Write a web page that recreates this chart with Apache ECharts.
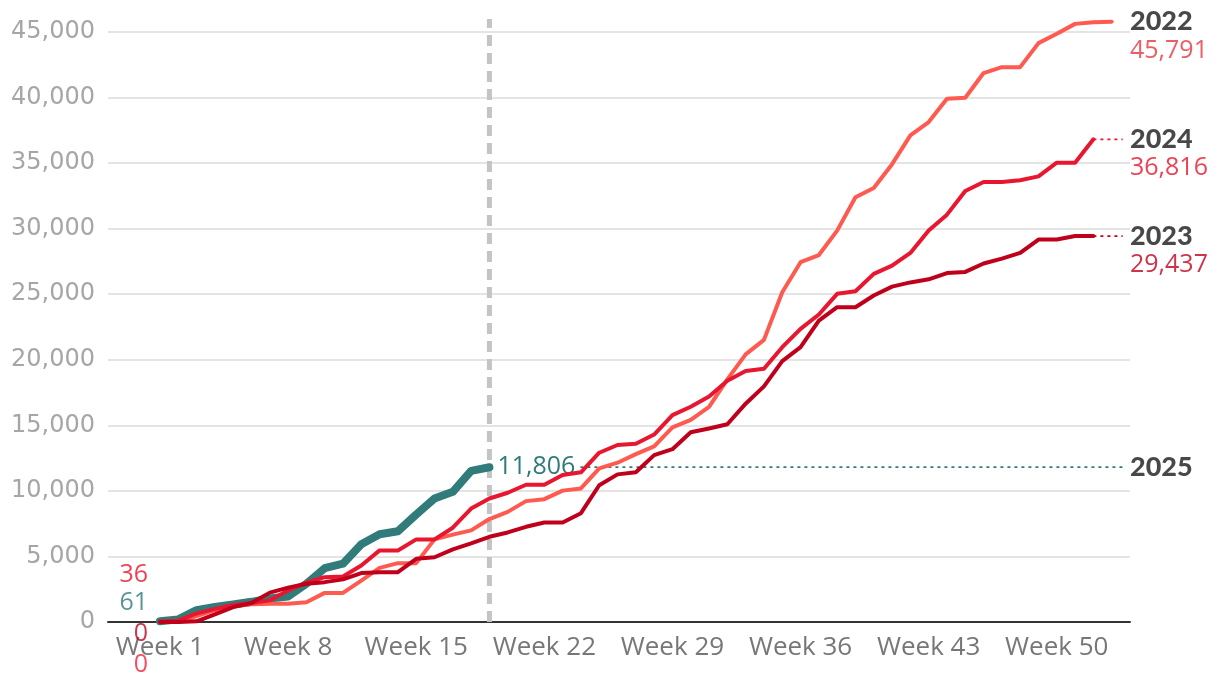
<!DOCTYPE html>
<html><head><meta charset="utf-8">
<script src="https://cdn.jsdelivr.net/npm/echarts@6/dist/echarts.min.js"></script>
<style>html,body{margin:0;padding:0;background:#fff}#c{width:1220px;height:674px}</style>
</head><body><div id="c"></div>
<script>
// ---- data ----
const weeks = Array.from({length: 53}, (_, i) => i + 1);
const xTickWeeks = [1, 8, 15, 22, 29, 36, 43, 50];
const currentWeek = 19;

const y2022 = [0, 0, 450, 900, 1200, 1350, 1400, 1400, 1500, 2220, 2220, 3160, 4130, 4490, 4490, 6300, 6660, 6990, 7850, 8400,
  9220, 9370, 10020, 10190, 11720, 12150, 12800, 13400, 14850, 15420, 16400, 18500, 20410, 21520, 25150, 27440, 27990, 29850, 32390, 33100,
  34920, 37120, 38130, 39910, 39990, 41870, 42320, 42320, 44150, 44860, 45620, 45750, 45791];
const y2023 = [0, 0, 50, 580, 1140, 1450, 2240, 2620, 2920, 3040, 3250, 3730, 3800, 3800, 4820, 4940, 5540, 6000, 6500, 6830,
  7260, 7590, 7590, 8300, 10430, 11260, 11420, 12730, 13180, 14470, 14760, 15080, 16650, 17970, 19900, 20960, 22990, 24010, 24010, 24900,
  25580, 25900, 26140, 26610, 26700, 27340, 27720, 28150, 29170, 29170, 29437, 29437];
const y2024 = [36, 100, 650, 1000, 1300, 1450, 1650, 2400, 3000, 3420, 3470, 4310, 5460, 5460, 6300, 6300, 7190, 8650, 9420, 9860,
  10470, 10470, 11210, 11420, 12910, 13500, 13590, 14300, 15780, 16420, 17200, 18400, 19140, 19310, 20960, 22360, 23450, 25030, 25230, 26550,
  27180, 28150, 29860, 31070, 32870, 33560, 33560, 33690, 33990, 35030, 35030, 36816];
const y2025 = [61, 200, 900, 1140, 1330, 1540, 1800, 1950, 2920, 4100, 4450, 5930, 6690, 6920, 8200, 9420, 9930, 11530, 11806];

const years = ['2022', '2023', '2024', '2025'];
const lineColors = {'2022': '#ff5a50', '2023': '#c0001b', '2024': '#e8172f', '2025': '#317c7b'};
const numColors = {'2022': '#e8343c', '2023': '#c0001b', '2024': '#e8132c', '2025': '#2f7b7a'};
const seriesData = {'2022': y2022, '2023': y2023, '2024': y2024, '2025': y2025};
const startOffsets = {'2024': -47, '2025': -18, '2023': 12, '2022': 43};

const fmt = v => Number(v).toLocaleString('en-US');
const pts = arr => arr.map((v, i) => [weeks[i], v]);
const X_MIN = -1.84, X_MAX = 54, CONNECT_END = 53.6, Y_TOP = 46000;

const series = [];
// vertical dashed "current week" line
series.push({
  type: 'line', silent: true, clip: false, symbol: 'none', z: 1,
  data: [[currentWeek, 0], [currentWeek, Y_TOP]],
  lineStyle: {color: '#c4c4c4', width: 5, type: [11, 7]}
});
// dotted connectors
['2023', '2024', '2025'].forEach(y => {
  const arr = seriesData[y];
  const last = arr[arr.length - 1];
  series.push({
    type: 'line', silent: true, clip: false, symbol: 'none', z: 2,
    data: [[arr.length, last], [CONNECT_END, last]],
    lineStyle: {color: lineColors[y], width: 1.8, type: [3, 4]}
  });
});
// main lines: teal first (bottom), then reds
['2025', '2022', '2024', '2023'].forEach((y, k) => {
  const s = {
    name: y, type: 'line', clip: false, symbol: 'none', z: 3 + k,
    data: pts(seriesData[y]),
    lineStyle: {color: lineColors[y], width: y === '2025' ? 8 : 4, join: 'round', cap: 'round'},
    emphasis: {disabled: true}
  };
  if (y === '2025') {
    s.endLabel = {
      show: true, distance: 5, formatter: p => fmt(p.value[1]),
      fontFamily: 'Open Sans', fontSize: 25, color: numColors[y],
      backgroundColor: '#fff', padding: [0, 3]
    };
  }
  series.push(s);
});
// right side labels
series.push({
  type: 'scatter', silent: true, clip: false, symbolSize: 0, z: 10,
  data: years.map(y => {
    const arr = seriesData[y];
    const last = arr[arr.length - 1];
    const showNum = y !== '2025';
    return {
      value: [X_MAX, last],
      label: {
        show: true, position: 'right', distance: 0, offset: [0, showNum ? 14.5 : 0],
        formatter: showNum ? `{y|${y}}\n{v|${fmt(last)}}` : `{y|${y}}`,
        rich: {
          y: {fontFamily: 'Lato', fontWeight: 900, fontSize: 27, color: '#1a1a1a', lineHeight: 29},
          v: {fontFamily: 'Open Sans', fontSize: 25, color: numColors[y], lineHeight: 29}
        }
      }
    };
  })
});
// start labels
series.push({
  type: 'scatter', silent: true, clip: false, symbolSize: 0, z: 10,
  data: years.map(y => ({
    value: [weeks[0], seriesData[y][0]],
    label: {
      show: true, position: 'left', distance: 12, offset: [0, startOffsets[y]],
      formatter: fmt(seriesData[y][0]),
      fontFamily: 'Open Sans', fontSize: 25, color: y === '2022' ? '#f0203a' : numColors[y]
    }
  }))
});

const chart = echarts.init(document.getElementById('c'), null, {renderer: 'canvas'});
chart.setOption({
  animation: false,
  backgroundColor: '#fff',
  grid: {left: 108, right: 90, top: 32, bottom: 52, containLabel: false},
  xAxis: {
    type: 'value', min: X_MIN, max: X_MAX,
    axisLine: {show: true, onZero: true, lineStyle: {color: '#333', width: 2}},
    axisTick: {show: false},
    splitLine: {show: false},
    axisLabel: {
      customValues: xTickWeeks, formatter: v => 'Week ' + v, margin: 13,
      fontFamily: 'Open Sans', fontSize: 26, color: '#777'
    }
  },
  yAxis: {
    type: 'value', min: 0, max: 45000, interval: 5000,
    axisLine: {show: false}, axisTick: {show: false},
    splitLine: {show: true, lineStyle: {color: '#e4e4e4', width: 2}},
    axisLabel: {formatter: v => fmt(v), margin: 13, fontFamily: 'DejaVu Sans', fontSize: 24, color: '#a6a6a6'}
  },
  series: series
});
</script>
</body></html>
